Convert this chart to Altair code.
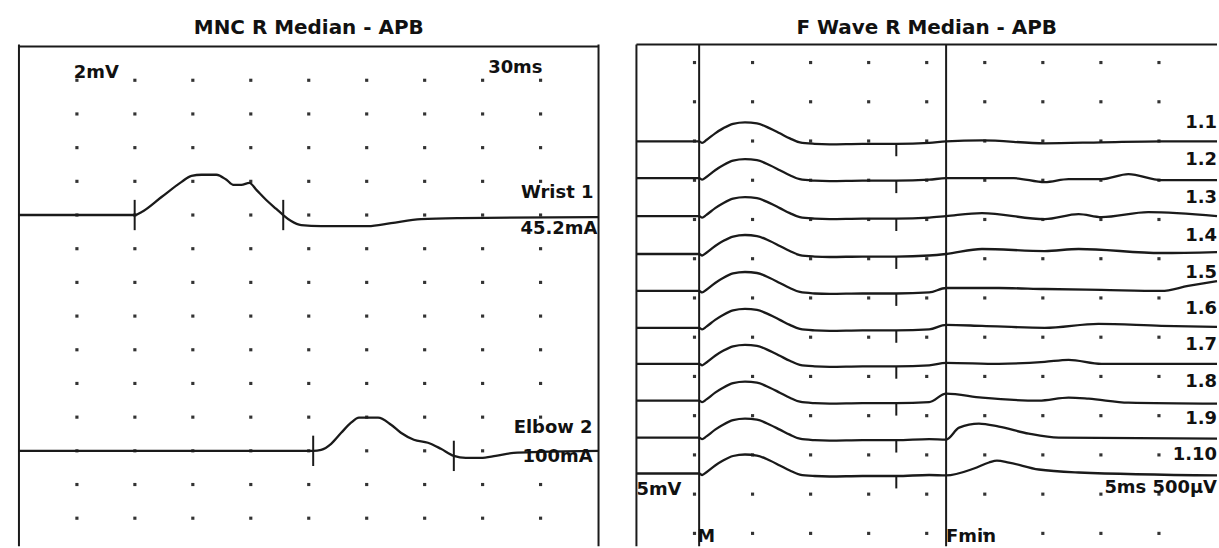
import altair as alt
import pandas as pd

FONT = "DejaVu Sans"
INK = "#1a1a1a"

# ---------------- Left panel: MNC R Median - APB (3 ms/div, 2 mV/div) ----------------
left_title = "MNC R Median - APB"
left_grid_t = [3, 6, 9, 12, 15, 18, 21, 24, 27]
left_grid_mv = [2, 4, 6, 8, 10, 12, 14, 16, 18, 20, 22, 24, 26, 28]

wrist_base = 20.0
wrist_t = [0, 5.99, 6.35, 7.38, 8.42, 8.93, 9.45, 10.22, 10.74, 11.10, 11.51, 11.93,
           12.29, 12.80, 13.32, 13.68, 14.09, 14.61, 15.64, 18.07, 19.26, 20.81, 22.87, 30.0]
wrist_mv = [0, 0, 0.18, 1.07, 1.97, 2.33, 2.39, 2.39, 2.09, 1.79, 1.79, 1.91,
            1.49, 0.89, 0.36, 0, -0.36, -0.60, -0.66, -0.66, -0.48, -0.24, -0.18, -0.12]

elbow_base = 6.0
elbow_t = [0, 15.23, 15.64, 16.16, 16.68, 17.19, 17.60, 18.59, 19.26, 19.77, 20.44,
           21.17, 21.84, 22.51, 23.13, 23.90, 24.68, 25.61, 27.0, 30.0]
elbow_mv = [0, 0, 0.06, 0.42, 1.07, 1.67, 1.97, 1.97, 1.55, 1.07, 0.66,
            0.48, 0.12, -0.30, -0.42, -0.42, -0.30, -0.12, -0.06, 0]

# latency cursors (time, centre level relative to baseline)
wrist_marks_t = [5.99, 13.68]
wrist_marks_mv = [0.0, 0.0]
elbow_marks_t = [15.23, 22.51]
elbow_marks_mv = [0.0, -0.30]
mark_half = 0.9

left_label_text = ["2mV", "30ms", "Wrist 1", "45.2mA", "Elbow 2", "100mA"]
left_label_t = [2.84, 27.10, 29.74, 29.94, 29.69, 29.69]
left_label_mv = [28.43, 28.70, 21.32, 19.19, 7.35, 5.63]
left_label_align = ["left", "right", "right", "right", "right", "right"]

# ---------------- Right panel: F Wave R Median - APB (5 ms/div) ----------------
right_title = "F  Wave R Median - APB"
right_grid_t = [5, 10, 15, 20, 25, 30, 35, 40, 45]
right_grid_mv = [0, 5, 10, 15, 20, 25, 30, 35, 40, 45, 50, 55, 60]

trace_names = ["1.1", "1.2", "1.3", "1.4", "1.5", "1.6", "1.7", "1.8", "1.9", "1.10"]
trace_base = [49.96, 45.26, 40.43, 35.60, 30.89, 26.19, 21.61, 16.91, 12.20, 7.63]

# M response (same shape on every sweep)
m_t = [0, 5.40, 5.66, 6.00, 6.78, 7.46, 8.32, 9.35, 10.38, 11.49, 12.35, 13.21,
       14.07, 15.35, 16.64, 19.47, 22.38, 25.21]
m_mv = [0, 0, -0.19, 0.13, 1.02, 1.65, 2.23, 2.42, 2.29, 1.65, 1.02, 0.38,
        -0.13, -0.32, -0.38, -0.32, -0.32, -0.19]

# late part of each sweep (F waves)
f_t = [
    [26.67, 29.76, 35.16, 40.05, 45.20, 50.0],
    [26.67, 29.76, 32.50, 35.16, 37.22, 40.05, 42.37, 45.20, 50.0],
    [26.67, 29.76, 35.16, 38.08, 40.05, 44.08, 50.0],
    [26.67, 29.76, 35.16, 38.08, 45.20, 50.0],
    [26.67, 31.22, 35.16, 40.05, 45.20, 47.51, 50.0],
    [26.67, 29.76, 35.16, 39.79, 45.20, 50.0],
    [26.67, 31.22, 35.16, 37.22, 40.05, 50.0],
    [26.67, 29.76, 34.65, 37.22, 38.94, 42.37, 50.0],
    [26.67, 27.79, 29.50, 31.22, 33.79, 36.36, 50.0],
    [26.67, 29.07, 30.36, 31.05, 32.08, 34.65, 38.08, 50.0],
]
f_mv = [
    [0, 0.13, -0.25, -0.13, 0, 0],
    [0, 0, 0, -0.51, -0.13, -0.13, 0.51, -0.25, -0.25],
    [0, 0.38, -0.38, 0.25, -0.13, 0.51, 0],
    [0, 0.64, 0.38, 0.64, 0.13, 0.25],
    [0.38, 0.38, 0.25, 0.13, 0, 0.64, 1.27],
    [0.38, 0.25, 0, 0.51, 0.25, 0.13],
    [0.13, 0, 0.25, 0.51, 0, 0],
    [0.89, 0.38, 0, 0.38, 0.25, -0.25, -0.38],
    [-0.25, 1.27, 1.78, 1.40, 0.51, 0, -0.13],
    [-0.25, 0.64, 1.40, 1.65, 1.40, 0.51, 0.13, -0.25],
]
cursor_t = 22.38
cursor_top = -0.32
cursor_bottom = -1.9
trace_label_rise = 2.35

m_line_t = 5.40
fmin_line_t = 26.67

right_label_text = ["5mV", "5ms 500µV", "M", "Fmin"]
right_label_t = [0.0, 50.0, 5.23, 26.67]
right_label_mv = [5.47, 5.72, -0.51, -0.51]
right_label_align = ["left", "right", "left", "left"]

# ---------------- build tables ----------------
def grid_df(ts, vs):
    return pd.DataFrame([{"t": t, "v": v} for t in ts for v in vs])

left_lines = pd.concat([
    pd.DataFrame({"t": wrist_t, "v": [wrist_base + m for m in wrist_mv], "trace": "Wrist 1"}),
    pd.DataFrame({"t": elbow_t, "v": [elbow_base + m for m in elbow_mv], "trace": "Elbow 2"}),
])
left_marks = pd.DataFrame({
    "t": wrist_marks_t + elbow_marks_t,
    "v1": [wrist_base + m - mark_half for m in wrist_marks_mv] + [elbow_base + m - mark_half for m in elbow_marks_mv],
    "v2": [wrist_base + m + mark_half for m in wrist_marks_mv] + [elbow_base + m + mark_half for m in elbow_marks_mv],
})
left_labels = pd.DataFrame({"text": left_label_text, "t": left_label_t, "v": left_label_mv,
                            "align": left_label_align})

rows = []
for name, base, ft, fv in zip(trace_names, trace_base, f_t, f_mv):
    for t, v in zip(m_t + ft, m_mv + fv):
        rows.append({"t": t, "v": base + v, "trace": name})
right_lines = pd.DataFrame(rows)
right_marks = pd.DataFrame({"t": [cursor_t] * len(trace_base),
                            "v1": [b + cursor_top for b in trace_base],
                            "v2": [b + cursor_bottom for b in trace_base]})
trace_labels = pd.DataFrame({"text": trace_names, "t": [50.0] * len(trace_names),
                             "v": [b + trace_label_rise for b in trace_base]})
right_labels = pd.DataFrame({"text": right_label_text, "t": right_label_t, "v": right_label_mv,
                             "align": right_label_align})


def panel(title, xdom, ydom, grid, lines, marks, labels_l, labels_r, frame_top, vlines, width):
    xs = alt.Scale(domain=xdom, nice=False, zero=False)
    ys = alt.Scale(domain=ydom, nice=False, zero=False)
    X = lambda f: alt.X(f, type="quantitative", scale=xs, axis=None)
    Y = lambda f: alt.Y(f, type="quantitative", scale=ys, axis=None)

    dots = alt.Chart(grid).mark_point(shape="square", filled=True, size=10, color="#333333",
                                      opacity=1).encode(x=X("t"), y=Y("v"))
    vframe = alt.Chart(pd.DataFrame({"t": vlines})).mark_rule(color=INK, strokeWidth=2).encode(x=X("t"))
    hframe = alt.Chart(pd.DataFrame({"v": [frame_top]})).mark_rule(color=INK, strokeWidth=2).encode(y=Y("v"))
    traces = alt.Chart(lines).mark_line(color=INK, strokeWidth=2.3, interpolate="monotone",
                                        strokeJoin="round", strokeCap="butt").encode(
        x=X("t"), y=Y("v"), detail="trace:N")
    ticks = alt.Chart(marks).mark_rule(color=INK, strokeWidth=2).encode(x=X("t"), y=Y("v1"), y2="v2")
    layers = [dots, vframe, hframe, traces, ticks]
    txt = dict(font=FONT, fontSize=18, fontWeight="bold", color="#111", baseline="middle")
    for al in ["left", "right"]:
        sub = labels_l[labels_l["align"] == al]
        if len(sub):
            layers.append(alt.Chart(sub).mark_text(align=al, **txt).encode(x=X("t"), y=Y("v"), text="text:N"))
    if labels_r is not None:
        layers.append(alt.Chart(labels_r).mark_text(align="right", **txt).encode(
            x=X("t"), y=Y("v"), text="text:N"))
    return alt.layer(*layers).properties(
        width=width, height=503,
        title=alt.Title(title, font=FONT, fontSize=20, fontWeight="bold", color="#111",
                        anchor="middle", offset=6),
    )


left = panel(left_title, [0, 30], [0.33, 30.12], grid_df(left_grid_t, left_grid_mv),
             left_lines, left_marks, left_labels, None, 30.0, [0, 30], 581)
right = panel(right_title, [0, 50], [-1.65, 62.29], grid_df(right_grid_t, right_grid_mv),
              right_lines, right_marks, right_labels, trace_labels, 62.29,
              [0, m_line_t, fmin_line_t], 582)

chart = alt.hconcat(left, right, spacing=38, bounds="flush").configure(
    padding={"left": 17, "top": 17, "right": 0, "bottom": 0},
    background="white",
).configure_view(strokeWidth=0)

chart.save("out.html", embed_options={"renderer": "svg", "actions": False})
